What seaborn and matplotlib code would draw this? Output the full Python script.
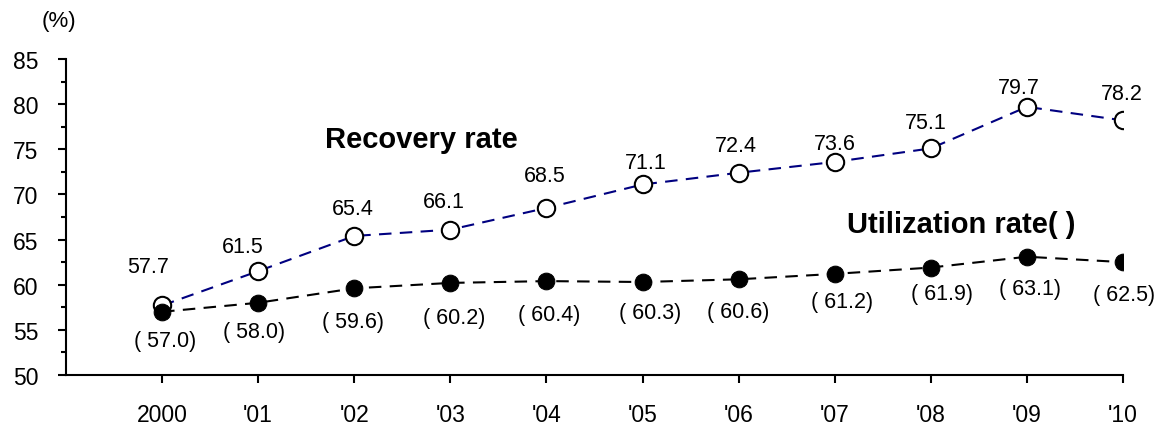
import numpy as np
import pandas as pd
import seaborn as sns
import matplotlib.pyplot as plt

years = ["2000", "'01", "'02", "'03", "'04", "'05", "'06", "'07", "'08", "'09", "'10"]
recovery = [57.7, 61.5, 65.4, 66.1, 68.5, 71.1, 72.4, 73.6, 75.1, 79.7, 78.2]
utilization = [57.0, 58.0, 59.6, 60.2, 60.4, 60.3, 60.6, 61.2, 61.9, 63.1, 62.5]

sns.set_style("ticks", {"text.color": "black", "xtick.color": "black",
                        "ytick.color": "black", "axes.edgecolor": "black"})
plt.rcParams["font.family"] = ["Liberation Sans", "DejaVu Sans"]

df = pd.DataFrame({"pos": np.arange(len(years)), "recovery": recovery, "utilization": utilization})

fig = plt.figure(figsize=(11.65, 4.31), dpi=100)
ax = fig.add_axes([66 / 1165, 1 - 376 / 431, (1123 - 66) / 1165, (376 - 60) / 431])

sns.lineplot(data=df, x="pos", y="recovery", ax=ax, color="#000080", lw=1.5,
             linestyle=(0, (6, 4)), marker="o", markersize=12.5,
             markerfacecolor="white", markeredgecolor="black", markeredgewidth=1.5)
sns.lineplot(data=df, x="pos", y="utilization", ax=ax, color="black", lw=1.5,
             linestyle=(0, (6, 4)), marker="o", markersize=12,
             markerfacecolor="black", markeredgecolor="black")

# label nudges in pixels (dx, dy up)
rec_nudge = [(-14, 39), (-15, 25), (-1, 27), (-7, 28), (-2, 32), (3, 22),
             (-3, 27), (0, 18), (-5, 26), (-8, 19), (-1, 27)]
use_nudge = [(3, -29), (-4, -29), (-1, -33), (4, -35), (3, -33), (8, -30),
             (0, -32), (7, -28), (11, -26), (3, -32), (1, -32)]
px = 72 / 100
for i, v in enumerate(recovery):
    dx, dy = rec_nudge[i]
    ax.annotate(f"{v:.1f}", (i, v), xytext=(dx * px, dy * px), textcoords="offset points",
                ha="center", va="center", fontsize=15.5)
for i, v in enumerate(utilization):
    dx, dy = use_nudge[i]
    ax.annotate(f"( {v:.1f})", (i, v), xytext=(dx * px, dy * px), textcoords="offset points",
                ha="center", va="center", fontsize=15.5)

ax.text(2.70, 76.1, "Recovery rate", fontsize=21, fontweight="bold", ha="center", va="center")
ax.text(8.32, 66.7, "Utilization rate( )", fontsize=21, fontweight="bold", ha="center", va="center")

ax.set_xlim(-1, 10)
ax.set_ylim(50, 85)
ax.set_xticks(df["pos"])
ax.set_xticklabels(years)
ax.set_yticks(np.arange(50, 86, 5))
ax.set_yticks(np.arange(50, 86, 2.5), minor=True)
ax.tick_params(axis="both", which="major", labelsize=16.5, length=6, width=1.5, pad=14)
ax.tick_params(axis="y", which="minor", length=3.5, width=1.5)
ax.set_xlabel("")
ax.set_ylabel("")
for s in ["left", "bottom"]:
    ax.spines[s].set_linewidth(1.5)
sns.despine(ax=ax)

fig.text(59 / 1165, 1 - 22 / 431, "(%)", fontsize=16, ha="center", va="center")

fig.savefig("out.png", dpi=100)
